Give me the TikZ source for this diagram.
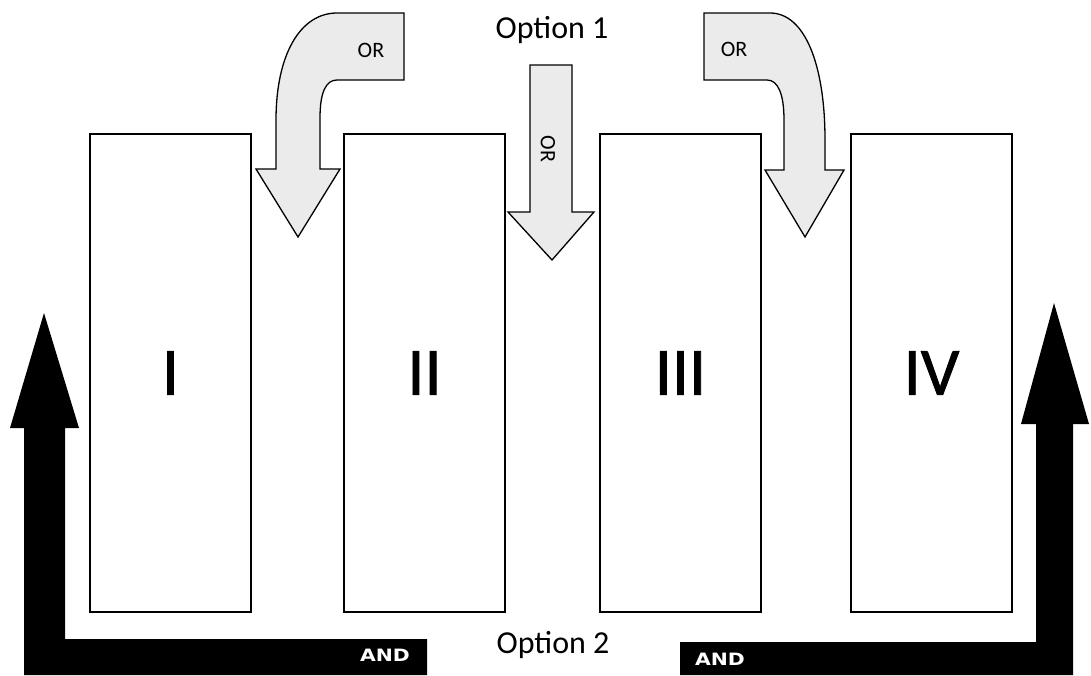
\documentclass[tikz,border=0pt]{standalone}
\usepackage{fontspec}
\setmainfont{Carlito}
\newfontfamily\andfont{DejaVu Sans}
\newfontfamily\numfont[FakeBold=1.2]{Carlito}
\definecolor{arrowgray}{HTML}{EBEBEB}
\begin{document}
\begin{tikzpicture}[x=1pt,y=-1pt,
  box/.style={draw=black, line width=1.4pt, fill=white, minimum width=161pt,
    minimum height=478pt, inner sep=0pt, font=\numfont\fontsize{68}{68}\selectfont, text depth=0pt},
  grayarrow/.style={draw=black, line width=1.3pt, fill=arrowgray, line join=miter},
  blackarrow/.style={fill=black, draw=none},
  optlabel/.style={anchor=base, inner sep=0pt, font=\fontsize{32}{32}\selectfont},
  orlabel/.style={anchor=base, inner sep=0pt, font=\fontsize{22}{22}\selectfont},
  andlabel/.style={anchor=base, inner sep=0pt, text=white, xscale=1.2,
    font=\andfont\bfseries\fontsize{17}{17}\selectfont}
]
\useasboundingbox (0,0) rectangle (1091,675);
\fill[white] (0,0) rectangle (1091,675);

% boxes
\node[box] (b1) at (170.5,373) {I};
\node[box] (b2) at (424.5,373) {II};
\node[box] (b3) at (680.5,373) {III};
\node[box] (b4) at (931.5,373) {IV};

% gray curved arrow (left)
\draw[grayarrow] (404,13) -- (337,13)
  .. controls (300,13) and (276,55) .. (276,120)
  -- (276,169) -- (256,169) -- (298,237) -- (340,169) -- (320,169) -- (320,118)
  .. controls (320,92) and (326,80) .. (337,80)
  -- (404,80) -- cycle;
\node[orlabel] (or1) at (371,57) {OR};

% gray straight arrow (middle)
\draw[grayarrow] (530,65) -- (572,65) -- (572,212) -- (594,212) -- (552,260)
  -- (508,212) -- (530,212) -- cycle;
\node[inner sep=0pt, rotate=-90, font=\fontsize{22}{22}\selectfont] (or2) at (548,149) {OR};

% gray curved arrow (right)
\draw[grayarrow] (704,13) -- (770,13)
  .. controls (805,13) and (825,65) .. (825,140)
  -- (825,170) -- (844,170) -- (805,237) -- (765,170) -- (784,170) -- (784,120)
  .. controls (784,94) and (778,80) .. (767,80)
  -- (704,80) -- cycle;
\node[orlabel] (or3) at (734,56) {OR};

% black arrows
\fill[blackarrow] (24,675) -- (24,428) -- (10,428) -- (44,313) -- (79,428) -- (65,428)
  -- (65,639) -- (427,639) -- (427,675) -- cycle;
\fill[blackarrow] (680,642) -- (1036,642) -- (1036,424) -- (1021,424) -- (1054,303)
  -- (1089,424) -- (1073,424) -- (1073,675) -- (680,675) -- cycle;
\node[andlabel] (and1) at (385,661) {AND};
\node[andlabel] (and2) at (720,665) {AND};

% option labels
\node[optlabel] (opt1) at (552,38) {Option 1};
\node[optlabel] (opt2) at (553,653) {Option 2};
\end{tikzpicture}
\end{document}
